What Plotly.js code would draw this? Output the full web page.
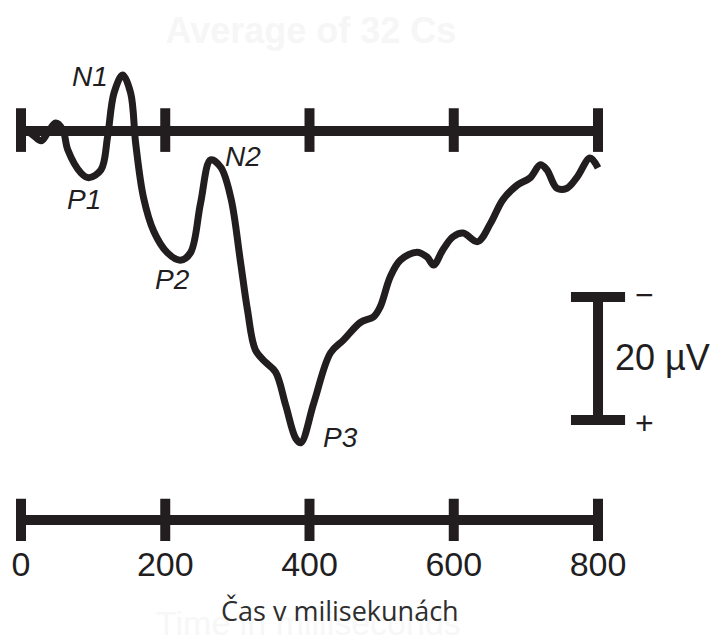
<!DOCTYPE html>
<html>
<head>
<meta charset="utf-8">
<script src="https://cdn.plot.ly/plotly-3.0.1.min.js"></script>
<style>
  html, body { margin: 0; padding: 0; background: #ffffff; }
  #chart { width: 714px; height: 644px; }
</style>
</head>
<body>
<div id="chart"></div>
<script>
// ---- Data ----
const timeMs = [0, 8, 18, 28, 37, 48, 58, 65, 83, 94, 111, 120, 129, 141, 152, 159, 170, 184, 203, 221,
  235, 249, 263, 277, 291, 304, 314, 325, 339, 353, 367, 381, 388, 406, 429, 447, 471, 489, 498, 512,
  526, 549, 563, 572, 585, 599, 613, 633, 651, 668, 688, 706, 720, 729, 743, 757, 771, 789, 800];
const amplitudeUv = [0, 0, 0.8, 1.6, 0.3, -1.3, -0.2, 3.1, 6.8, 7.6, 6.3, 1.0, -6.2, -9.1, -6.2, 2.0, 10.9, 16.3, 19.8, 21.0,
  19.8, 11.7, 4.7, 5.9, 10.9, 21.0, 29.1, 35.6, 37.6, 39.2, 44.6, 50.0, 50.7, 44.2, 36.1, 34.0, 31.1, 30.2, 28.6, 23.7,
  21.0, 19.7, 20.5, 21.8, 19.3, 17.2, 16.6, 18.0, 15.0, 11.2, 8.8, 7.6, 5.5, 6.3, 9.3, 9.3, 7.5, 4.4, 6.0];
const tickValues = [0, 200, 400, 600, 800];
const tickLabels = ['0', '200', '400', '600', '800'];
const peakNames = ['N1', 'P1', 'N2', 'P2', 'P3'];
const scaleBarUv = 20;
const chartTitle = 'Average of 32 Cs';
const axisTitleCz = 'Čas v milisekunách';
const axisTitleEn = 'Time in milliseconds';

// ---- Styling / placement ----
const INK = '#221e1f';
const AXIS_W = 10;
const topAxisY = 0, topTickHalf = [-3.7, 3.4];
const bottomAxisY = 63.25, bottomTick = [59.8, 66.7];
const scaleTop = 27.0;
const scaleCapHalf = 37.5;
const labelFont = { family: 'Liberation Sans, Arial, sans-serif', size: 28, color: INK };
const peakLabelPos = [[95.7, -8.9], [87.3, 11.1], [307.8, 4.2], [210.7, 24.1], [442.3, 49.9]];

function ruler(y, lo, hi) {
  const xs = [tickValues[0], tickValues[tickValues.length - 1], null];
  const ys = [y, y, null];
  tickValues.forEach(t => { xs.push(t, t, null); ys.push(lo, hi, null); });
  return { x: xs, y: ys, mode: 'lines', line: { color: INK, width: AXIS_W }, hoverinfo: 'skip', cliponaxis: false, showlegend: false };
}

const xEnd = tickValues[tickValues.length - 1];
const scaleBar = {
  x: [xEnd, xEnd, null, xEnd - scaleCapHalf, xEnd + scaleCapHalf, null, xEnd - scaleCapHalf, xEnd + scaleCapHalf],
  y: [scaleTop, scaleTop + scaleBarUv, null, scaleTop, scaleTop, null, scaleTop + scaleBarUv, scaleTop + scaleBarUv],
  mode: 'lines', line: { color: INK, width: AXIS_W }, hoverinfo: 'skip', cliponaxis: false, showlegend: false
};

const wave = {
  x: timeMs, y: amplitudeUv, mode: 'lines',
  line: { color: INK, width: 7, shape: 'spline', smoothing: 1.0 },
  cliponaxis: false, showlegend: false
};

const traces = [ruler(topAxisY, topTickHalf[0], topTickHalf[1]), ruler(bottomAxisY, bottomTick[0], bottomTick[1]), scaleBar, wave];

const annotations = peakNames.map((n, i) => ({
  x: peakLabelPos[i][0], y: peakLabelPos[i][1], xref: 'x', yref: 'y',
  text: '<i>' + n + '</i>', showarrow: false, font: labelFont, xanchor: 'center', yanchor: 'middle'
}));
annotations.push(
  { x: 820.8, y: 36.9, xref: 'x', yref: 'y', text: scaleBarUv + ' µV', showarrow: false,
    font: { family: 'Liberation Sans, Arial, sans-serif', size: 36, color: INK }, xanchor: 'left', yanchor: 'middle' },
  { x: 863.8, y: 26.7, xref: 'x', yref: 'y', text: '−', showarrow: false,
    font: { family: 'Liberation Sans, Arial, sans-serif', size: 32, color: INK }, xanchor: 'center', yanchor: 'middle' },
  { x: 863.8, y: 47.5, xref: 'x', yref: 'y', text: '+', showarrow: false,
    font: { family: 'Liberation Sans, Arial, sans-serif', size: 32, color: INK }, xanchor: 'center', yanchor: 'middle' },
  { x: 308 / 714, y: -0.152, xref: 'paper', yref: 'paper', text: axisTitleEn, showarrow: false,
    font: { family: 'Liberation Sans, Arial, sans-serif', size: 34, color: '#f7f7f7' }, xanchor: 'center', yanchor: 'middle' },
  { x: 340 / 714, y: -0.128, xref: 'paper', yref: 'paper', text: axisTitleCz, showarrow: false,
    font: { family: 'Open Sans, Noto Sans, sans-serif', size: 27, color: '#2e2e2e' }, xanchor: 'center', yanchor: 'middle' }
);

const layout = {
  width: 714, height: 644,
  margin: { l: 0, r: 0, t: 0, b: 103, pad: 0 },
  paper_bgcolor: '#ffffff', plot_bgcolor: '#ffffff',
  title: { text: '<b>' + chartTitle + '</b>', x: 311 / 714, xanchor: 'center', y: 1 - 30 / 644, yanchor: 'middle', yref: 'container',
    font: { family: 'Liberation Sans, Arial, sans-serif', size: 36, color: '#f6f6f6' } },
  xaxis: {
    range: [-29.1, 960.8], showgrid: false, zeroline: false, showline: false,
    tickvals: tickValues, ticktext: tickLabels, ticks: '',
    tickfont: { family: 'Liberation Sans, Arial, sans-serif', size: 34, color: INK }
  },
  yaxis: { range: [66.67, -21.30], visible: false, showgrid: false, zeroline: false },
  annotations: annotations,
  showlegend: false
};

Plotly.newPlot('chart', traces, layout, { staticPlot: true, displayModeBar: false });
</script>
</body>
</html>
